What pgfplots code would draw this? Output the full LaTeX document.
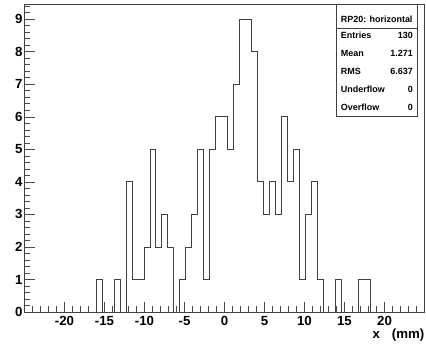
\documentclass[border=0pt]{standalone}
\usepackage{fontspec}
\setmainfont{Liberation Sans}
\usepackage{pgfplots}
\pgfplotsset{compat=1.18}
\begin{document}
\begin{tikzpicture}
\useasboundingbox (0,0) rectangle (426bp,344bp);
\begin{axis}[
  at={(24.5bp,32bp)}, anchor=south west,
  scale only axis, width=400bp, height=307.5bp,
  xmin=-25, xmax=25, ymin=0, ymax=9.45,
  xtick={-20,-15,...,20},
  ytick={0,1,...,9},
  minor xtick={-25,-24,...,25},
  minor ytick={0,0.2,...,9.4},
  tick pos=left, tick align=inside,
  major tick length=10bp, minor tick length=5.5bp,
  every tick/.style={black!70, line width=0.5pt},
  axis line style={black!75, line width=0.6pt},
  /pgf/number format/assume math mode=true,
  tick label style={font=\fontsize{13.3}{13.3}\selectfont\bfseries},
  yticklabel style={inner sep=0pt, xshift=-1.8bp},
  xticklabel style={inner sep=0pt, yshift=-4.3bp},
  xlabel={x\hspace{12bp}(mm)},
  xlabel style={at={(axis description cs:1,0)}, anchor=east, yshift=-23bp, inner sep=0pt, font=\fontsize{13.3}{13.3}\selectfont\bfseries},
]
\addplot[const plot mark left, black!75, line width=0.7pt] table {
x y
-25 0
-16.045 1
-15.299 0
-14.552 0
-13.806 1
-13.060 0
-12.313 4
-11.567 1
-10.821 1
-10.075 2
-9.328 5
-8.582 2
-7.836 3
-7.090 2
-6.343 0
-5.597 1
-4.851 2
-4.104 3
-3.358 5
-2.612 1
-1.866 5
-1.119 6
-0.373 6
0.373 5
1.119 7
1.866 9
2.612 9
3.358 8
4.104 4
4.851 3
5.597 4
6.343 3
7.090 6
7.836 4
8.582 5
9.328 1
10.075 3
10.821 4
11.567 1
12.313 0
13.060 0
13.806 1
14.552 0
15.299 0
16.045 0
16.791 1
17.537 1
18.284 0
25 0
};
\end{axis}
\draw[black!75, line width=0.6pt, fill=white] (336.3bp,228bp) rectangle (417bp,339.3bp);
\draw[black!75, line width=0.6pt] (336.3bp,315.7bp) -- (417bp,315.7bp);
\begin{scope}[every node/.style={inner sep=0pt, font=\fontsize{9}{9}\selectfont\bfseries}]
\node at (376.7bp,324.7bp) {RP20: horizontal};
\node[anchor=west] at (340.7bp,308.3bp) {Entries};
\node[anchor=east] at (413bp,308.3bp) {130};
\node[anchor=west] at (340.7bp,290.7bp) {Mean};
\node[anchor=east] at (413bp,290.7bp) {1.271};
\node[anchor=west] at (340.7bp,273bp) {RMS};
\node[anchor=east] at (413bp,273bp) {6.637};
\node[anchor=west] at (340.7bp,254.7bp) {Underflow};
\node[anchor=east] at (413bp,254.7bp) {0};
\node[anchor=west] at (340.7bp,236.3bp) {Overflow};
\node[anchor=east] at (413bp,236.3bp) {0};
\end{scope}
\end{tikzpicture}
\end{document}
